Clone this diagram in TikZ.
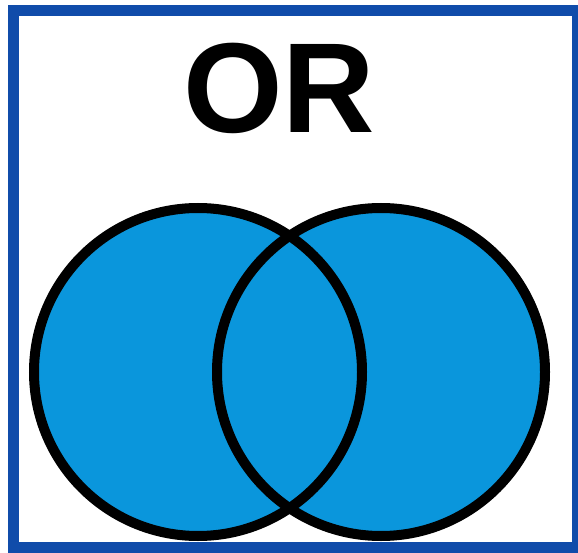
\documentclass[tikz,border=0pt]{standalone}
\usepackage{fontspec}
\setmainfont{Liberation Sans}
\usepackage{xcolor}
\usepackage{tikz}
\usetikzlibrary{positioning, calc}

\definecolor{frameblue}{RGB}{16,76,170}
\definecolor{setblue}{RGB}{10,150,220}

\begin{document}
\begin{tikzpicture}[x=1pt, y=-1pt]
    \useasboundingbox (0,0) rectangle (578,553);

    % Frame
    \draw[frameblue, line width=11pt] (13,10.5) rectangle (577,547);

    % Title
    \node[inner sep=0pt, font=\bfseries\fontsize{128}{128}\selectfont] (title) at (279,88) {OR};

    % Sets
    \fill[setblue] (198,372) circle (164);
    \fill[setblue] (381,372) circle (164);
    \draw[black, line width=10pt] (198,372) circle (164);
    \draw[black, line width=10pt] (381,372) circle (164);
\end{tikzpicture}
\end{document}
